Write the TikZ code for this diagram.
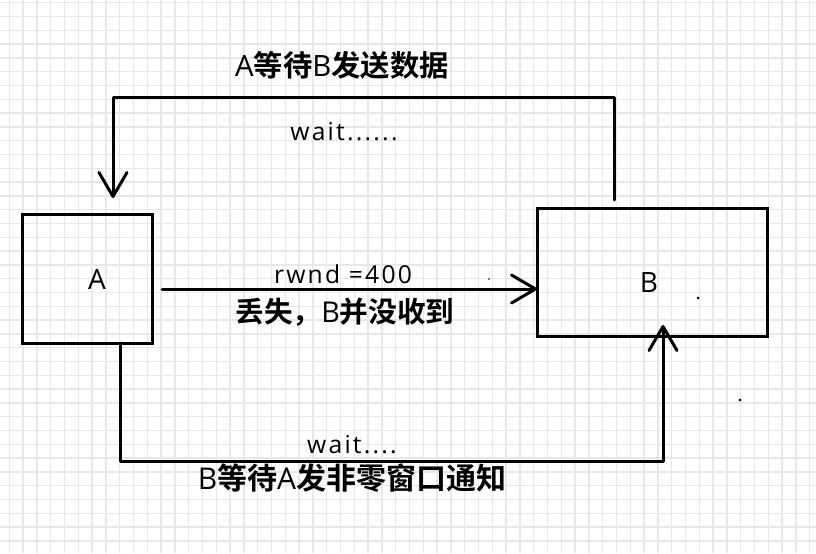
\documentclass[tikz,border=0pt]{standalone}
\usepackage{fontspec}
\setmainfont{Open Sans}
\newfontfamily\handfont{Open Sans}[LetterSpace=9]
\newfontfamily\cjk{Noto Sans CJK SC}[BoldFont={Noto Sans CJK SC Bold}]
\usetikzlibrary{arrows.meta}
\newlength{\du}
\setlength{\du}{0.75pt}
\newcommand{\zh}[1]{{\cjk\bfseries #1}}
\definecolor{gridcolor}{rgb}{0.910000, 0.910000, 0.910000}
\definecolor{dialinecolor}{rgb}{0.000000, 0.000000, 0.000000}
\tikzset{
  gridline/.style={draw=gridcolor, line width=1.4\du},
  box/.style={draw=dialinecolor, line width=3\du, inner sep=0pt, outer sep=0pt},
  conn/.style={draw=dialinecolor, line width=3\du, line cap=round, line join=round,
    -{Straight Barb[length=18pt, width=21pt, line cap=round, line join=round]}},
  title/.style={font=\fontsize{22}{26}\selectfont, inner sep=0pt},
  hand/.style={font=\handfont\fontsize{18.5}{22}\selectfont, inner sep=0pt, anchor=base},
  boxlabel/.style={font=\fontsize{21}{25}\selectfont, inner sep=0pt},
}

\begin{document}
\begin{tikzpicture}[x=\du, y=-\du]
\fill[white] (0,0) rectangle (816,553);
\useasboundingbox (0,0) rectangle (816,553);
% grid
\foreach \i in {0,...,58}
  \draw[gridline] ({9.3+13.8*\i},0) -- ++(0,553);
\foreach \j in {0,...,39}
  \draw[gridline] (0,{2.7+13.8*\j}) -- ++(816,0);

% boxes
\node[box, minimum width=130\du, minimum height=129\du] (A) at (87.5,278.5) {};
\node[box, minimum width=230\du, minimum height=128\du] (B) at (652,272) {};
\node[boxlabel] (labelA) at (97,279) {A};
\node[boxlabel] (labelB) at (649,283) {B};

% ends of the connectors
\coordinate (upB) at (614,200);
\coordinate (downA) at (113,198);
\coordinate (topline) at (0,97);
\coordinate (send) at (162,289);
\coordinate (fromA) at (120,343);
\coordinate (botline) at (0,461);
\coordinate (upToB) at (663,325);

\draw[conn] (upB) -- (upB |- topline) -| (downA);
\draw[conn] (send) -- (send -| B.west);
\draw[conn] (fromA) -- (fromA |- botline) -| (upToB);

% texts
\node[title] (waitB) at (342,65) {A\zh{等待}B\zh{发送数据}};
\node[hand] (waitTop) at (344,140) {wait......};
\node[hand] (rwnd) at (343,283) {rwnd =400};
\node[title, font=\fontsize{21.5}{25}\selectfont] (lost) at (345,312) {\zh{丢失，}B\zh{并没收到}};
\node[hand] (waitBot) at (352,453) {wait....};
\node[title, font=\fontsize{22.5}{26}\selectfont] (waitA) at (352,478) {B\zh{等待}A\zh{发非零窗口通知}};

% stray dots
\fill (698,298) circle (1.5);
\fill (740,400) circle (1.5);
\fill (489,279) circle (0.8);
\end{tikzpicture}
\end{document}
